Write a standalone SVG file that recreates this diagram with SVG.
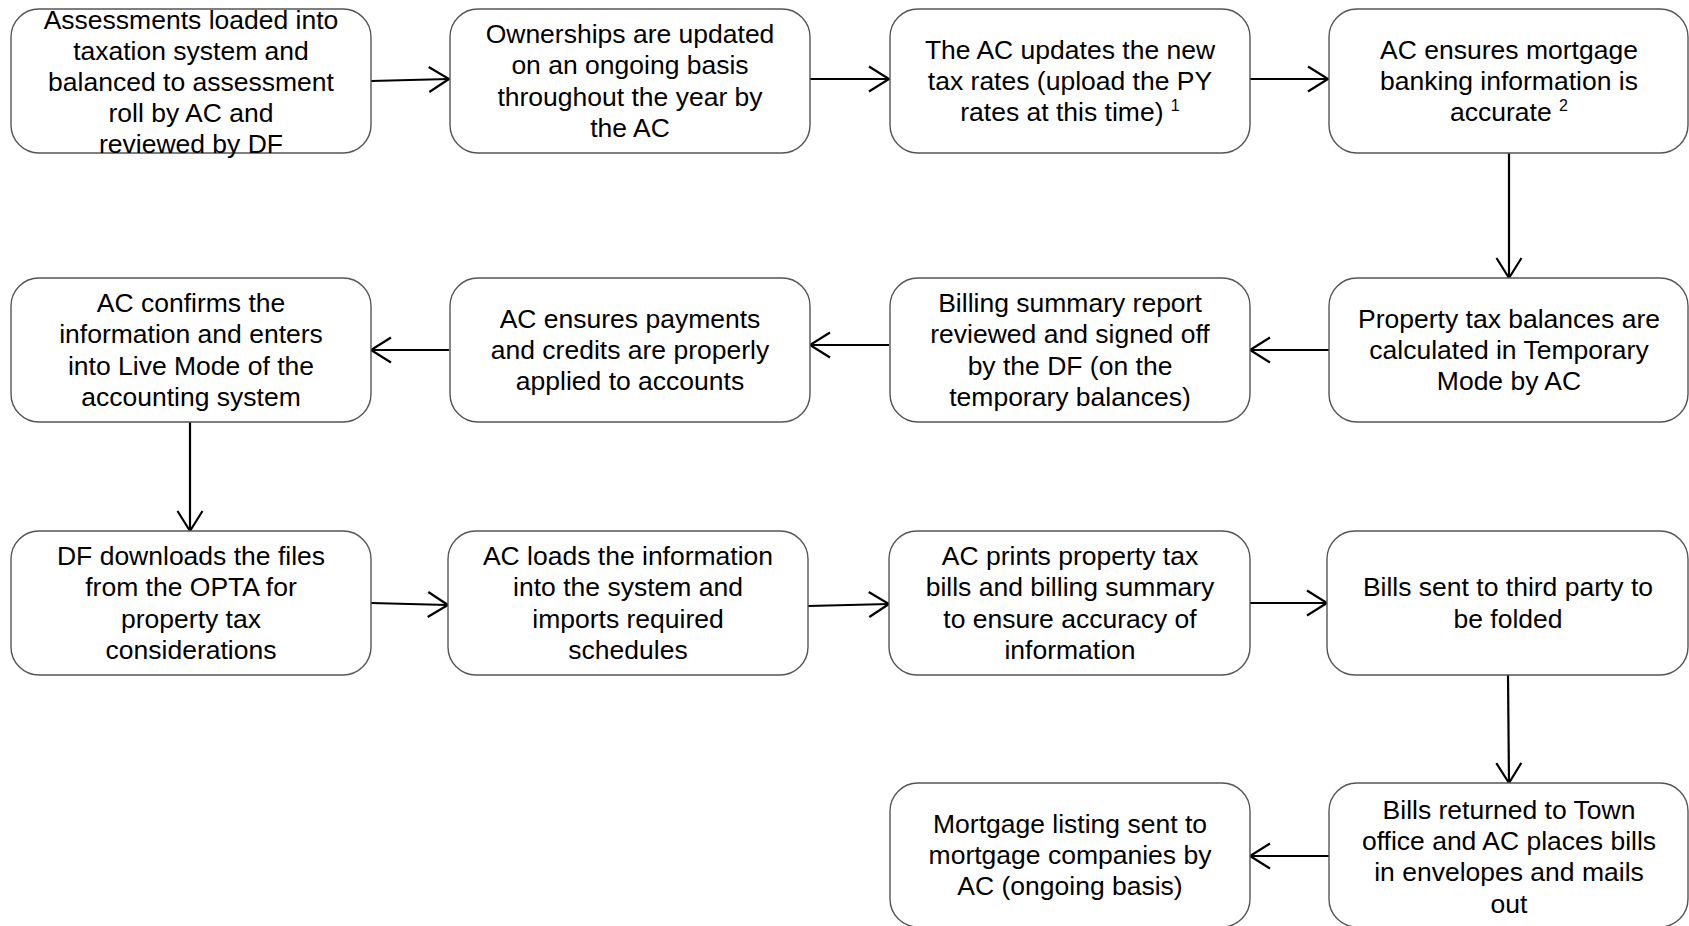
<svg xmlns="http://www.w3.org/2000/svg" width="1689" height="926" viewBox="0 0 1689 926">
<defs>
<style>
.box{fill:#fff;stroke:#555;stroke-width:1.4}
.t{font-family:"Liberation Sans",Arial,sans-serif;font-size:26.5px;fill:#000;text-anchor:middle}
.sup{font-size:16px}
.c{fill:none;stroke:#000;stroke-width:2.2}
</style>
<marker id="ah" markerUnits="userSpaceOnUse" markerWidth="26" markerHeight="32" refX="22" refY="14" orient="auto" viewBox="0 0 26 32">
<path d="M2,1.5 L22,14 L2,26.5" fill="none" stroke="#000" stroke-width="2.2"/>
</marker>
</defs>
<rect width="1689" height="926" fill="#fff"/>

<g id="connectors">
<path class="c" d="M371,81 L449,79" marker-end="url(#ah)"/>
<path class="c" d="M810,79 L889,79" marker-end="url(#ah)"/>
<path class="c" d="M1250,79 L1328,79" marker-end="url(#ah)"/>
<path class="c" d="M1509,153 L1509,278" marker-end="url(#ah)"/>
<path class="c" d="M1329,350 L1250,350" marker-end="url(#ah)"/>
<path class="c" d="M889,345 L810,345" marker-end="url(#ah)"/>
<path class="c" d="M449,350 L371,350" marker-end="url(#ah)"/>
<path class="c" d="M190,422 L190,531" marker-end="url(#ah)"/>
<path class="c" d="M371,603 L448,605" marker-end="url(#ah)"/>
<path class="c" d="M808,606 L889,604" marker-end="url(#ah)"/>
<path class="c" d="M1250,603 L1327,603" marker-end="url(#ah)"/>
<path class="c" d="M1508,675 L1509,783" marker-end="url(#ah)"/>
<path class="c" d="M1329,856 L1250,856" marker-end="url(#ah)"/>
</g>

<g id="n1">
<rect class="box" x="11" y="9" width="360" height="144" rx="28"/>
<text class="t"><tspan x="191" y="28.6">Assessments loaded into</tspan><tspan x="191" y="59.8">taxation system and</tspan><tspan x="191" y="91">balanced to assessment</tspan><tspan x="191" y="122.2">roll by AC and</tspan><tspan x="191" y="153.4">reviewed by DF</tspan></text>
</g>
<g id="n2">
<rect class="box" x="450" y="9" width="360" height="144" rx="28"/>
<text class="t"><tspan x="630" y="43.2">Ownerships are updated</tspan><tspan x="630" y="74.4">on an ongoing basis</tspan><tspan x="630" y="105.6">throughout the year by</tspan><tspan x="630" y="136.8">the AC</tspan></text>
</g>
<g id="n3">
<rect class="box" x="890" y="9" width="360" height="144" rx="28"/>
<text class="t"><tspan x="1070" y="58.8">The AC updates the new</tspan><tspan x="1070" y="90">tax rates (upload the PY</tspan><tspan x="1070" y="121.2">rates at this time) <tspan class="sup" dy="-10">1</tspan></tspan></text>
</g>
<g id="n4">
<rect class="box" x="1329" y="9" width="359" height="144" rx="28"/>
<text class="t"><tspan x="1509" y="58.8">AC ensures mortgage</tspan><tspan x="1509" y="90">banking information is</tspan><tspan x="1509" y="121.2">accurate <tspan class="sup" dy="-10">2</tspan></tspan></text>
</g>

<g id="n5">
<rect class="box" x="1329" y="278" width="359" height="144" rx="28"/>
<text class="t"><tspan x="1509" y="327.8">Property tax balances are</tspan><tspan x="1509" y="359">calculated in Temporary</tspan><tspan x="1509" y="390.2">Mode by AC</tspan></text>
</g>
<g id="n6">
<rect class="box" x="890" y="278" width="360" height="144" rx="28"/>
<text class="t"><tspan x="1070" y="312.2">Billing summary report</tspan><tspan x="1070" y="343.4">reviewed and signed off</tspan><tspan x="1070" y="374.6">by the DF (on the</tspan><tspan x="1070" y="405.8">temporary balances)</tspan></text>
</g>
<g id="n7">
<rect class="box" x="450" y="278" width="360" height="144" rx="28"/>
<text class="t"><tspan x="630" y="327.8">AC ensures payments</tspan><tspan x="630" y="359">and credits are properly</tspan><tspan x="630" y="390.2">applied to accounts</tspan></text>
</g>
<g id="n8">
<rect class="box" x="11" y="278" width="360" height="144" rx="28"/>
<text class="t"><tspan x="191" y="312.2">AC confirms the</tspan><tspan x="191" y="343.4">information and enters</tspan><tspan x="191" y="374.6">into Live Mode of the</tspan><tspan x="191" y="405.8">accounting system</tspan></text>
</g>

<g id="n9">
<rect class="box" x="11" y="531" width="360" height="144" rx="28"/>
<text class="t"><tspan x="191" y="565.2">DF downloads the files</tspan><tspan x="191" y="596.4">from the OPTA for</tspan><tspan x="191" y="627.6">property tax</tspan><tspan x="191" y="658.8">considerations</tspan></text>
</g>
<g id="n10">
<rect class="box" x="448" y="531" width="360" height="144" rx="28"/>
<text class="t"><tspan x="628" y="565.2">AC loads the information</tspan><tspan x="628" y="596.4">into the system and</tspan><tspan x="628" y="627.6">imports required</tspan><tspan x="628" y="658.8">schedules</tspan></text>
</g>
<g id="n11">
<rect class="box" x="889" y="531" width="361" height="144" rx="28"/>
<text class="t"><tspan x="1070" y="565.2">AC prints property tax</tspan><tspan x="1070" y="596.4">bills and billing summary</tspan><tspan x="1070" y="627.6">to ensure accuracy of</tspan><tspan x="1070" y="658.8">information</tspan></text>
</g>
<g id="n12">
<rect class="box" x="1327" y="531" width="361" height="144" rx="28"/>
<text class="t"><tspan x="1508" y="596.4">Bills sent to third party to</tspan><tspan x="1508" y="627.6">be folded</tspan></text>
</g>

<g id="n13">
<rect class="box" x="1329" y="783" width="359" height="144" rx="28"/>
<text class="t"><tspan x="1509" y="819">Bills returned to Town</tspan><tspan x="1509" y="850.2">office and AC places bills</tspan><tspan x="1509" y="881.4">in envelopes and mails</tspan><tspan x="1509" y="912.6">out</tspan></text>
</g>
<g id="n14">
<rect class="box" x="890" y="783" width="360" height="144" rx="28"/>
<text class="t"><tspan x="1070" y="832.8">Mortgage listing sent to</tspan><tspan x="1070" y="864">mortgage companies by</tspan><tspan x="1070" y="895.2">AC (ongoing basis)</tspan></text>
</g>
</svg>
